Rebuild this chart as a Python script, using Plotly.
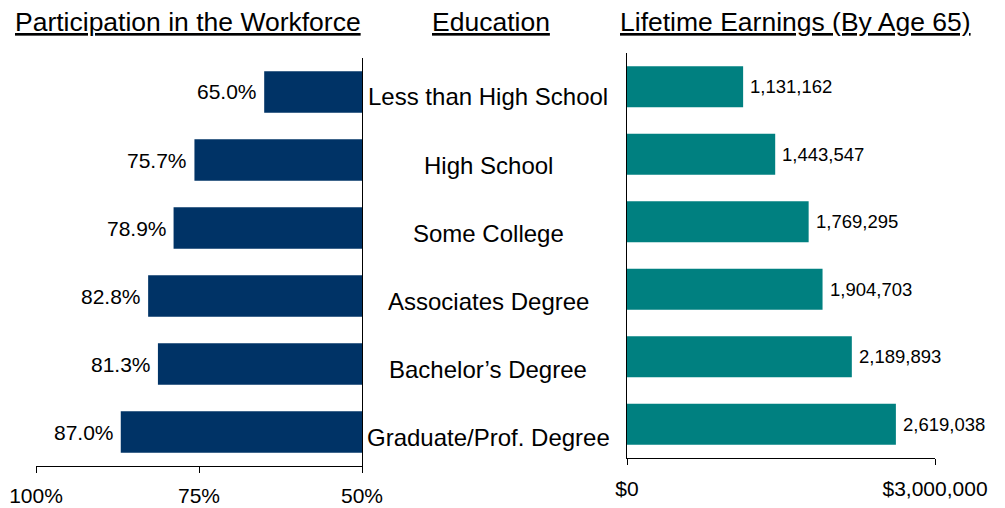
import plotly.graph_objects as go

categories = ["Less than High School", "High School", "Some College",
              "Associates Degree", "Bachelor\u2019s Degree", "Graduate/Prof. Degree"]
participation = [65.0, 75.7, 78.9, 82.8, 81.3, 87.0]
earnings = [1131162, 1443547, 1769295, 1904703, 2189893, 2619038]
left_ticks = [100, 75, 50]
left_ticklabels = ["100%", "75%", "50%"]
right_ticks = [0, 3000000]
right_ticklabels = ["$0", "$3,000,000"]
titles = ["Participation in the Workforce", "Education", "Lifetime Earnings (By Age 65)"]

FONT = "Liberation Sans, Arial, sans-serif"
NAVY = "#003366"
TEAL = "#008080"
OFF = 8  # page body margin offset
W, H = 1005 - OFF, 508 - OFF


def px(x):
    return (x - OFF) / W


def py(y):
    return 1 - (y - OFF) / H


fig = go.Figure()

base = 50
fig.add_trace(go.Bar(
    y=categories, x=[v - base for v in participation], base=base,
    orientation="h", marker=dict(color=NAVY, line=dict(width=0)),
    xaxis="x", yaxis="y", hoverinfo="skip", showlegend=False))

fig.add_trace(go.Bar(
    y=categories, x=earnings,
    orientation="h", marker=dict(color=TEAL, line=dict(width=0)),
    xaxis="x2", yaxis="y2", hoverinfo="skip", showlegend=False))

annotations = []
for c, v in zip(categories, participation):
    annotations.append(dict(x=v, y=c, xref="x", yref="y", text=f"{v:.1f}%",
                            showarrow=False, xanchor="right", xshift=-5,
                            font=dict(size=21, color="#000000", family=FONT)))
for c, v in zip(categories, earnings):
    annotations.append(dict(x=v, y=c, xref="x2", yref="y2", text=f"{v:,}",
                            showarrow=False, xanchor="left", xshift=5,
                            font=dict(size=18.5, color="#000000", family=FONT)))
for c in categories:
    annotations.append(dict(x=px(488), y=c, xref="paper", yref="y", text=c,
                            showarrow=False, xanchor="center", yshift=-5,
                            font=dict(size=24, color="#000000", family=FONT)))

title_x = [187.5, 491, 795]
for t, tx in zip(titles, title_x):
    annotations.append(dict(x=px(tx), y=py(22), xref="paper", yref="paper",
                            text=f"<u>{t}</u>", showarrow=False,
                            xanchor="center", yanchor="middle",
                            font=dict(size=26.5, color="#000000", family=FONT)))

fig.update_layout(
    width=W, height=H,
    margin=dict(l=0, r=0, t=0, b=0, autoexpand=False),
    paper_bgcolor="white", plot_bgcolor="white",
    bargap=0.39,
    font=dict(family=FONT, color="#000000"),
    annotations=annotations,
    xaxis=dict(domain=[px(36), px(362)], range=[100, 50],
               tickvals=left_ticks, ticktext=left_ticklabels,
               ticks="outside", ticklen=6, tickcolor="#000000", tickwidth=1,
               showline=True, linecolor="#000000", linewidth=1,
               showgrid=False, zeroline=False, anchor="y", automargin=False,
               tickfont=dict(size=21, family=FONT, color="#000000"),
               ticklabelstandoff=5),
    yaxis=dict(domain=[py(466), py(58)], range=[5.5, -0.5],
               side="right", showline=True, linecolor="#000000", linewidth=1,
               showticklabels=False, ticks="", showgrid=False, zeroline=False,
               anchor="x", automargin=False),
    xaxis2=dict(domain=[px(627), px(935)], range=[0, 3000000],
                tickvals=right_ticks, ticktext=right_ticklabels,
                ticks="outside", ticklen=6, tickcolor="#000000", tickwidth=1,
                showline=True, linecolor="#000000", linewidth=1,
                showgrid=False, zeroline=False, anchor="y2", automargin=False,
                tickfont=dict(size=21, family=FONT, color="#000000"),
                ticklabelstandoff=6),
    yaxis2=dict(domain=[py(458), py(53)], range=[5.5, -0.5],
                showline=True, linecolor="#000000", linewidth=1,
                showticklabels=False, ticks="", showgrid=False, zeroline=False,
                anchor="x2", automargin=False),
)

fig.write_html("out.html")
